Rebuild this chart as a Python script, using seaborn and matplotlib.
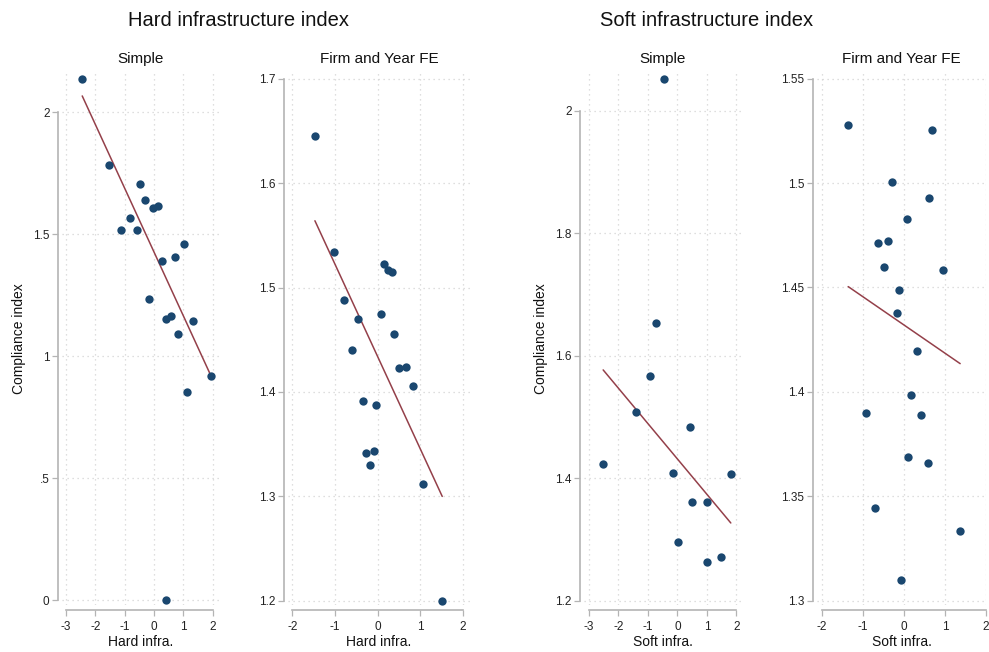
import matplotlib
matplotlib.use("Agg")
import matplotlib.pyplot as plt
import seaborn as sns
import pandas as pd

# Binned scatter values: compliance index against infrastructure indices
hard_simple_x = [-2.45, -1.54, -0.49, -0.31, -0.83, -0.03, 0.13, -1.12, -0.58, 0.26,
                 0.71, 1.01, -0.18, 0.42, 0.59, 1.34, 0.83, 1.93, 1.12, 0.41]
hard_simple_y = [2.137, 1.781, 1.704, 1.639, 1.566, 1.608, 1.615, 1.516, 1.516, 1.388,
                 1.406, 1.460, 1.234, 1.153, 1.163, 1.145, 1.091, 0.919, 0.851, 0.0]
hard_simple_fit_x = [-2.45, 1.93]
hard_simple_fit_y = [2.066, 0.922]

hard_fe_x = [-1.47, -1.02, -0.80, -0.46, 0.14, 0.23, 0.33, 0.07, 0.38, -0.60,
             0.50, 0.66, 0.83, -0.34, -0.04, -0.27, -0.09, -0.18, 1.06, 1.51]
hard_fe_y = [1.645, 1.534, 1.488, 1.470, 1.5225, 1.517, 1.5146, 1.4743, 1.456, 1.440,
             1.4226, 1.4236, 1.4057, 1.3916, 1.388, 1.3415, 1.3434, 1.3297, 1.3115, 1.200]
hard_fe_fit_x = [-1.47, 1.51]
hard_fe_fit_y = [1.564, 1.300]

soft_simple_x = [-0.46, -0.74, -0.94, -1.42, 0.41, -2.53, -0.16, 1.83, 0.51, 0.99,
                 0.03, 1.00, 1.48]
soft_simple_y = [2.053, 1.653, 1.5665, 1.508, 1.484, 1.424, 1.4085, 1.4069, 1.361, 1.361,
                 1.296, 1.264, 1.272]
soft_simple_fit_x = [-2.52, 1.81]
soft_simple_fit_y = [1.577, 1.327]

soft_fe_x = [-1.36, 0.69, -0.28, 0.61, 0.07, -0.63, -0.40, -0.49, 0.94, -0.12,
             -0.16, 0.32, 0.17, -0.93, 0.41, 0.11, 0.58, -0.71, 1.37, -0.07]
soft_fe_y = [1.528, 1.5254, 1.5007, 1.4929, 1.4828, 1.4713, 1.4723, 1.4598, 1.4585, 1.4489,
             1.4376, 1.4196, 1.3984, 1.3899, 1.3888, 1.3687, 1.3658, 1.3445, 1.3335, 1.310]
soft_fe_fit_x = [-1.36, 1.37]
soft_fe_fit_y = [1.4504, 1.4135]

panel_titles = ["Simple", "Firm and Year FE", "Simple", "Firm and Year FE"]
group_titles = ["Hard infrastructure index", "Soft infrastructure index"]
x_labels = ["Hard infra.", "Hard infra.", "Soft infra.", "Soft infra."]
y_label = "Compliance index"

x_ticks_wide = [-3, -2, -1, 0, 1, 2]
x_ticks_narrow = [-2, -1, 0, 1, 2]
y_ticks_p1 = [0, 0.5, 1, 1.5, 2]
y_labels_p1 = ["0", ".5", "1", "1.5", "2"]
y_ticks_p2 = [1.2, 1.3, 1.4, 1.5, 1.6, 1.7]
y_labels_p2 = ["1.2", "1.3", "1.4", "1.5", "1.6", "1.7"]
y_ticks_p3 = [1.2, 1.4, 1.6, 1.8, 2.0]
y_labels_p3 = ["1.2", "1.4", "1.6", "1.8", "2"]
y_ticks_p4 = [1.30, 1.35, 1.40, 1.45, 1.50, 1.55]
y_labels_p4 = ["1.3", "1.35", "1.4", "1.45", "1.5", "1.55"]

sns.set_style("white")
plt.rcParams["font.family"] = ["Liberation Sans", "DejaVu Sans"]

W, H = 989, 652
fig = plt.figure(figsize=(W / 100, H / 100), dpi=100)
fig.patch.set_facecolor("white")

TOP, BOTTOM = 73, 605


def make_axes(left, right):
    return fig.add_axes([left / W, 1 - BOTTOM / H, (right - left) / W, (BOTTOM - TOP) / H])


panels = [
    dict(box=(62, 220), x=hard_simple_x, y=hard_simple_y, fx=hard_simple_fit_x, fy=hard_simple_fit_y,
         xlim=(-3.14, 2.25), ylim=(-0.02, 2.16), xt=x_ticks_wide, yt=y_ticks_p1, ytl=y_labels_p1, ylab=True),
    dict(box=(288, 470), x=hard_fe_x, y=hard_fe_y, fx=hard_fe_fit_x, fy=hard_fe_fit_y,
         xlim=(-2.10, 2.16), ylim=(1.196, 1.7055), xt=x_ticks_narrow, yt=y_ticks_p2, ytl=y_labels_p2, ylab=False),
    dict(box=(584, 742), x=soft_simple_x, y=soft_simple_y, fx=soft_simple_fit_x, fy=soft_simple_fit_y,
         xlim=(-3.17, 2.19), ylim=(1.193, 2.062), xt=x_ticks_wide, yt=y_ticks_p3, ytl=y_labels_p3, ylab=True),
    dict(box=(817, 986), x=soft_fe_x, y=soft_fe_y, fx=soft_fe_fit_x, fy=soft_fe_fit_y,
         xlim=(-2.12, 2.0), ylim=(1.2979, 1.5527), xt=x_ticks_narrow, yt=y_ticks_p4, ytl=y_labels_p4, ylab=False),
]

dot_color = "#1a476f"
line_color = "#94404a"
axis_gray = "#b4b4b4"
grid_gray = "#d4d4d4"

for i, p in enumerate(panels):
    ax = make_axes(*p["box"])
    df = pd.DataFrame({"x": p["x"], "y": p["y"]})
    fit = pd.DataFrame({"x": p["fx"], "y": p["fy"]})
    sns.lineplot(data=fit, x="x", y="y", ax=ax, color=line_color, linewidth=1.1, zorder=2)
    sns.scatterplot(data=df, x="x", y="y", ax=ax, color=dot_color, s=36, linewidth=0, zorder=3)

    ax.set_xlim(*p["xlim"])
    ax.set_ylim(*p["ylim"])
    ax.set_xticks(p["xt"])
    ax.set_xticklabels([str(v) for v in p["xt"]])
    ax.set_yticks(p["yt"])
    ax.set_yticklabels(p["ytl"])
    ax.grid(True, color=grid_gray, linestyle=(0, (1, 3)), linewidth=0.9)
    ax.set_axisbelow(True)
    ax.tick_params(axis="both", which="major", length=4, width=0.9, color=axis_gray,
                   labelsize=8.5, labelcolor="#222222", pad=2)
    ax.tick_params(axis="x", pad=4)
    ax.tick_params(axis="both", bottom=True, left=True)

    sns.despine(ax=ax, offset=dict(left=3, bottom=3.6), trim=True)
    for side in ("left", "bottom"):
        ax.spines[side].set_color(axis_gray)
        ax.spines[side].set_linewidth(1.2)

    ax.set_title(panel_titles[i], fontsize=11, color="#111111", pad=7)
    ax.set_xlabel(x_labels[i], fontsize=10, color="#111111")
    ax.xaxis.set_label_coords(0.5, -0.056)
    if p["ylab"]:
        ax.set_ylabel(y_label, fontsize=10, color="#111111")
        ax.yaxis.set_label_coords(-0.23, 0.5)
    else:
        ax.set_ylabel("")

fig.text(238 / W, 1 - 20 / H, group_titles[0], ha="center", va="center", fontsize=14.5, color="#111111")
fig.text(707 / W, 1 - 20 / H, group_titles[1], ha="center", va="center", fontsize=14.5, color="#111111")

fig.savefig("out.png", dpi=100, facecolor="white")
